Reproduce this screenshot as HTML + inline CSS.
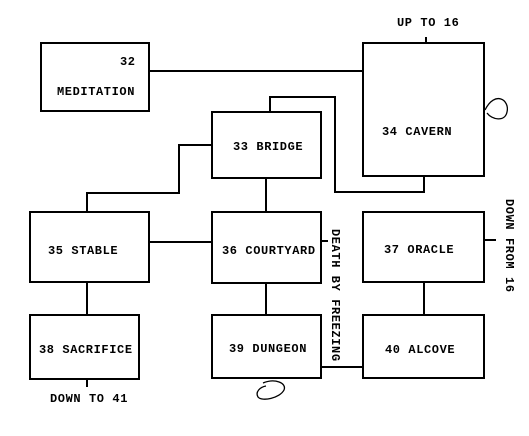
<!DOCTYPE html>
<html><head><style>
body{margin:0;background:#fff}
svg text{font-family:"Liberation Mono",monospace;font-weight:bold;font-size:12px;letter-spacing:0.6px;fill:#000}
</style></head><body>
<svg width="529" height="431" viewBox="0 0 529 431" xmlns="http://www.w3.org/2000/svg">
<g fill="none" stroke="#000" stroke-width="2">
<rect x="41" y="43" width="108" height="68"/>
<rect x="212" y="112" width="109" height="66"/>
<rect x="363" y="43" width="121" height="133"/>
<rect x="30" y="212" width="119" height="70"/>
<rect x="212" y="212" width="109" height="71"/>
<rect x="363" y="212" width="121" height="70"/>
<rect x="30" y="315" width="109" height="64"/>
<rect x="212" y="315" width="109" height="63"/>
<rect x="363" y="315" width="121" height="63"/>
<path d="M149 71H363"/>
<path d="M270 112V97H335V192H424V176"/>
<path d="M212 145H179V193H87V212"/>
<path d="M266 178V212"/>
<path d="M149 242H212"/>
<path d="M87 282V315"/>
<path d="M87 379V387"/>
<path d="M321 241H328"/>
<path d="M484 240H496"/>
<path d="M266 283V315"/>
<path d="M424 282V315"/>
<path d="M321 367H363"/>
<path d="M426 37V43"/>
<path d="M485 110C495 90 510 100 507 112C505 122 492 120 487 113" stroke-width="1.3"/>
<path d="M263 383C275 378 287 383 284 390C280 398 262 402 258 397C255 392 260 387 266 386" stroke-width="1.3"/>
</g>
<text x="120" y="65">32</text>
<text x="57" y="95">MEDITATION</text>
<text x="233" y="150">33 BRIDGE</text>
<text x="382" y="135">34 CAVERN</text>
<text x="48" y="254">35 STABLE</text>
<text x="222" y="254">36 COURTYARD</text>
<text x="384" y="253">37 ORACLE</text>
<text x="39" y="353">38 SACRIFICE</text>
<text x="229" y="352">39 DUNGEON</text>
<text x="385" y="353">40 ALCOVE</text>
<text x="397" y="26">UP TO 16</text>
<text x="50" y="402">DOWN TO 41</text>
<text transform="translate(332,229) rotate(90)">DEATH BY FREEZING</text>
<text transform="translate(506,199) rotate(90)">DOWN FROM 16</text>
</svg>
</body></html>
